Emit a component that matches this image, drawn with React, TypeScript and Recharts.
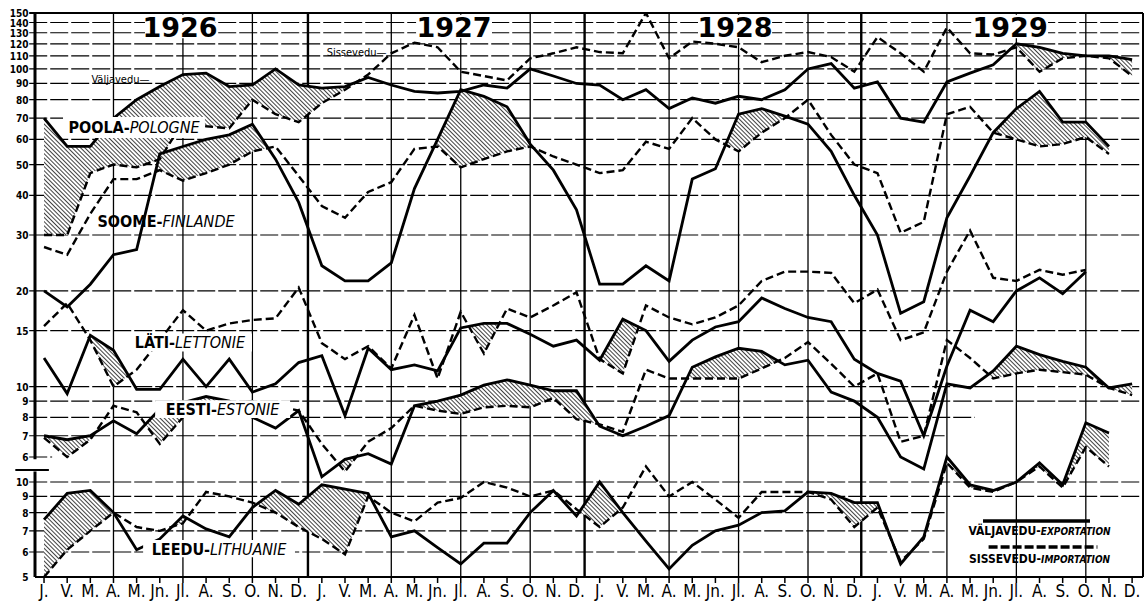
import React from "react";
import {
  ComposedChart,
  Line,
  Area,
  XAxis,
  YAxis,
  ReferenceLine,
  ReferenceArea,
} from "recharts";

const MONTHS = ["J.", "V.", "M.", "A.", "M.", "Jn.", "Jl.", "A.", "S.", "O.", "N.", "D."];
const YEARS = ["1926", "1927", "1928", "1929"];

// Poola - Pologne
const PL_EXP = [
  70, 57, 57, 70, 80, 88, 96, 97, 88, 89, 100, 89,
  87, 88, 94, 89, 85, 84, 85, 89, 87, 100, 95, 90,
  89, 80, 86, 75, 81, 78, 82, 80, 86, 100, 104, 87,
  91, 70, 68, 91, 97, 103, 120, 117, 112, 110, 110, 107,
];
const PL_IMP = [
  30, 30, 47, 50, 49, 52, 68, 66, 65, 80, 72, 68,
  78, 86, 96, 112, 121, 117, 98, 95, 92, 108, 112, 117,
  113, 112, 150, 108, 122, 120, 117, 105, 110, 113, 109, 98,
  126, 112, 98, 135, 112, 111, 117, 98, 108, 110, 108, 95,
];

// Soome - Finlande
const FI_EXP = [
  20, 17.8, 21, 26, 27, 54, 57, 60, 62, 67, 52, 38,
  24, 21.5, 21.5, 24.5, 42, 60, 86, 82, 76, 58, 48, 36,
  21, 21, 24, 21.5, 45, 48.5, 72, 75, 71, 67, 55, 40,
  30, 17, 18.5, 34, 46, 63, 75, 85, 68, 68, 57, null,
];
const FI_IMP = [
  27.5, 26, 35, 45, 45, 48, 44.5, 47, 50, 55, 57, 46,
  37, 34, 41, 44, 56, 57, 49, 52, 55, 57, 53, 50,
  47, 48, 59, 56, 70, 60, 55, 63, 70, 80, 62, 50,
  47, 30.5, 33, 72, 76, 63, 60, 57, 58, 61, 54, null,
];

// Läti - Lettonie
const LV_EXP = [
  12.3, 9.5, 14.5, 13.0, 9.8, 9.8, 12.2, 10.0, 12.2, 9.6, 10.2, 11.9,
  12.5, 8.1, 13.2, 11.3, 11.7, 11.2, 15.3, 15.8, 15.8, 14.6, 13.4, 14.0,
  12.1, 16.3, 15.0, 12.0, 14.0, 15.4, 16.0, 19.0, 17.6, 16.5, 16.0, 12.2,
  11.0, 10.4, 7.0, 11.6, 17.4, 16.0, 20.0, 22.0, 19.6, 23.0, null, null,
];
const LV_IMP = [
  15.5, 18.3, 14.0, 10.0, 11.3, 14.0, 17.4, 15.0, 15.8, 16.2, 16.4, 20.5,
  13.7, 12.2, 13.4, 11.4, 16.8, 10.6, 17.2, 12.7, 17.6, 16.5, 18.0, 19.8,
  12.2, 11.0, 18.0, 16.5, 15.7, 16.5, 18.0, 21.5, 23.0, 23.0, 22.8, 18.3,
  20.2, 14.0, 14.8, 23.0, 31.0, 22.0, 21.5, 23.3, 22.5, 23.3, null, null,
];

// Eesti - Estonie
const EE_EXP = [
  7.0, 6.8, 7.0, 7.8, 7.1, 8.5, 8.9, 9.3, 9.0, 8.0, 7.4, 8.4,
  5.2, 5.9, 6.15, 5.7, 8.7, 9.0, 9.4, 10.1, 10.5, 10.1, 9.7, 9.7,
  7.5, 7.0, 7.5, 8.1, 11.5, 12.4, 13.2, 12.9, 11.7, 12.1, 9.6, 9.0,
  8.0, 6.0, 5.5, 10.2, 9.9, 11.2, 13.4, 12.6, 12.0, 11.5, 9.9, 10.2,
];
const EE_IMP = [
  6.9, 6.0, 6.8, 8.7, 8.3, 6.6, 8.0, 8.6, 8.8, 9.0, 8.7, 8.4,
  6.6, 5.4, 6.7, 7.4, 8.7, 8.4, 8.2, 8.6, 8.7, 8.6, 9.2, 7.9,
  7.6, 7.2, 11.3, 10.6, 10.6, 10.6, 10.6, 11.4, 12.3, 13.8, 11.8, 10.0,
  11.0, 6.7, 7.0, 14.0, 12.3, 10.6, 11.0, 11.3, 11.1, 10.9, 9.9, 9.4,
];

// Leedu - Lithuanie (lower panel)
const LT_EXP = [
  7.6, 9.2, 9.4, 8.0, 6.1, 6.6, 7.8, 7.1, 6.7, 8.3, 9.4, 8.5,
  9.8, 9.5, 9.2, 6.7, 7.0, 6.2, 5.5, 6.4, 6.4, 8.0, 9.4, 7.8,
  10.0, 8.0, 6.5, 5.3, 6.3, 7.0, 7.3, 8.0, 8.1, 9.3, 9.2, 8.6,
  8.6, 5.5, 6.7, 12.0, 9.8, 9.4, 10.0, 11.5, 9.8, 15.4, 14.3, null,
];
const LT_IMP = [
  5.0, 6.1, 7.0, 8.0, 7.2, 7.0, 7.4, 9.3, 9.0, 8.6, 8.0, 7.2,
  6.6, 5.9, 9.0, 8.0, 7.5, 8.6, 8.9, 10.0, 9.6, 9.0, 9.4, 8.2,
  7.2, 8.3, 11.2, 9.0, 10.0, 8.8, 7.7, 9.3, 9.3, 9.3, 8.8, 7.2,
  8.3, 5.6, 6.6, 11.5, 9.6, 9.3, 10.0, 11.2, 9.6, 12.9, 11.2, null,
];

const TOP_TICKS = [150, 140, 130, 120, 110, 100, 90, 80, 70, 60, 50, 40, 30, 20, 15, 10, 9, 8, 7, 6];
const BOT_TICKS = [10, 9, 8, 7, 6, 5];

const W = 1146;
const H = 605;
const XMIN = -0.39;
const XMAX = 47.47;
const TOP_DOMAIN: [number, number] = [2.514, 150];
const BOT_DOMAIN: [number, number] = [5, 306.3];
const FONT = "'Liberation Sans Narrow', 'DejaVu Sans Condensed', 'Liberation Sans', sans-serif";
const TICK_FONT = "'DejaVu Sans Condensed', 'DejaVu Sans', sans-serif";
const IDX = Array.from({ length: 48 }, (_, i) => i);

// where the grid is left open (legend corner, panel gap)
const GRID_END: Record<string, number> = { "top-8": 40.2, "top-7": 38.9, "top-6": 0.35, "bot-8": 38.9, "bot-7": 38.9, "bot-6": 38.9 };

const COUNTRIES = [
  { id: "pl", axis: "top", exp: PL_EXP, imp: PL_IMP },
  { id: "fi", axis: "top", exp: FI_EXP, imp: FI_IMP },
  { id: "lv", axis: "top", exp: LV_EXP, imp: LV_IMP },
  { id: "ee", axis: "top", exp: EE_EXP, imp: EE_IMP },
  { id: "lt", axis: "bot", exp: LT_EXP, imp: LT_IMP },
];

function toPoints(vals: (number | null)[]) {
  return vals.map((v, i) => ({ x: i, v }));
}

// shaded band where exports exceed imports, crossing points found in log space
function hatchBand(exp: (number | null)[], imp: (number | null)[]) {
  const out: { x: number; band: [number, number] | null }[] = [];
  for (let i = 0; i < exp.length; i++) {
    const e = exp[i];
    const m = imp[i];
    if (e == null || m == null) {
      out.push({ x: i, band: null });
      continue;
    }
    out.push({ x: i, band: e >= m ? [m, e] : null });
    const e2 = exp[i + 1];
    const m2 = imp[i + 1];
    if (e2 == null || m2 == null) continue;
    const d1 = Math.log(e) - Math.log(m);
    const d2 = Math.log(e2) - Math.log(m2);
    if ((d1 > 0 && d2 < 0) || (d1 < 0 && d2 > 0)) {
      const t = d1 / (d1 - d2);
      const lv = Math.exp(Math.log(e) + t * (Math.log(e2) - Math.log(e)));
      out.push({ x: i + t, band: [lv, lv] });
    }
  }
  return out;
}

type Part = { text: string; bold?: boolean; italic?: boolean; size?: number };

function textContent(parts: Part[], size: number, family = FONT, anchor: "middle" | "end" = "middle") {
  return (props: any) => {
    const vb = props.viewBox;
    if (!vb) return null;
    const cx = anchor === "end" ? vb.x + vb.width : vb.x + vb.width / 2;
    const cy = vb.y + vb.height / 2;
    return (
      <text x={cx} y={cy} textAnchor={anchor} dominantBaseline="central" fontFamily={family} fontSize={size} fill="#000">
        {parts.map((p, k) => (
          <tspan key={k} fontWeight={p.bold ? 700 : 400} fontStyle={p.italic ? "italic" : "normal"} fontSize={p.size ?? size}>
            {p.text}
          </tspan>
        ))}
      </text>
    );
  };
}

const YEAR_FONT = "'DejaVu Sans', sans-serif";
const LABELS = [
  { axis: "top", x1: 4.36, x2: 7.39, y1: 125, y2: 148, fill: "#fff", parts: [{ text: YEARS[0], bold: true }], size: 27, family: YEAR_FONT },
  { axis: "top", x1: 16.07, x2: 19.35, y1: 125, y2: 148, fill: "#fff", parts: [{ text: YEARS[1], bold: true }], size: 27, family: YEAR_FONT },
  { axis: "top", x1: 28.25, x2: 31.45, y1: 125, y2: 148, fill: "#fff", parts: [{ text: YEARS[2], bold: true }], size: 27, family: YEAR_FONT },
  { axis: "top", x1: 40.09, x2: 43.37, y1: 125, y2: 148, fill: "#fff", parts: [{ text: YEARS[3], bold: true }], size: 27, family: YEAR_FONT },
  { axis: "top", x1: 0.82, x2: 6.95, y1: 60.6, y2: 70.6, fill: "#fff", parts: [{ text: "POOLA-", bold: true }, { text: "POLOGNE", italic: true }], size: 16 },
  { axis: "top", x1: 2.29, x2: 8.25, y1: 31.3, y2: 35.4, fill: "none", parts: [{ text: "SOOME-", bold: true }, { text: "FINLANDE", italic: true }], size: 16 },
  { axis: "top", x1: 3.63, x2: 8.98, y1: 12.9, y2: 14.7, fill: "#fff", parts: [{ text: "LÄTI-", bold: true }, { text: "LETTONIE", italic: true }], size: 16 },
  { axis: "top", x1: 4.8, x2: 10.63, y1: 7.96, y2: 9.06, fill: "#fff", parts: [{ text: "EESTI-", bold: true }, { text: "ESTONIE", italic: true }], size: 16 },
  { axis: "bot", x1: 4.28, x2: 10.84, y1: 5.78, y2: 6.55, fill: "#fff", parts: [{ text: "LEEDU-", bold: true }, { text: "LITHUANIE", italic: true }], size: 16 },
  { axis: "top", x1: 2.0, x2: 4.6, y1: 89, y2: 97, fill: "none", parts: [{ text: "Väljavedu—" }], size: 11 },
  { axis: "top", x1: 12.2, x2: 14.8, y1: 109, y2: 117, fill: "none", parts: [{ text: "Sissevedu—" }], size: 11 },
  { axis: "bot", x1: 39.8, x2: 46.2, y1: 6.75, y2: 7.25, fill: "none", parts: [{ text: "VÄLJAVEDU-", bold: true }, { text: "EXPORTATION", bold: true, italic: true, size: 10 }], size: 12 },
  { axis: "bot", x1: 39.8, x2: 46.2, y1: 5.5, y2: 5.9, fill: "none", parts: [{ text: "SISSEVEDU-", bold: true }, { text: "IMPORTATION", bold: true, italic: true, size: 10 }], size: 12 },
];

const QUARTERS = IDX.filter((i) => i % 12 === 3 || i % 12 === 6 || i % 12 === 9);
const YEAR_SPLITS = [11.4, 23.35, 35.3];
const GRID_START = XMIN - 0.25;

function gridLine(axis: "top" | "bot", v: number) {
  const end = GRID_END[`${axis}-${v}`] ?? XMAX;
  return (
    <ReferenceLine
      key={`${axis}-${v}`}
      yAxisId={axis}
      segment={[{ x: GRID_START, y: v }, { x: end, y: v }]}
      stroke="#000"
      strokeWidth={v === 150 ? 1.8 : 1.2}
      strokeDasharray={v === 150 ? undefined : "18 3"}
      ifOverflow="visible"
      zIndex={50}
    />
  );
}

function tickText(axis: "top" | "bot", v: number) {
  return (
    <ReferenceArea
      key={`t-${axis}-${v}`}
      yAxisId={axis}
      x1={XMIN - 1.5}
      x2={XMIN - 0.28}
      y1={v * 0.985}
      y2={v * 1.015}
      fill="none"
      stroke="none"
      ifOverflow="visible"
      zIndex={1500}
      label={{ content: textContent([{ text: String(v), bold: true }], 10, TICK_FONT, "end") }}
    />
  );
}

export default function App() {
  return (
    <div style={{ position: "absolute", left: 0, top: 0, width: W, height: H, background: "#fff" }}>
      <ComposedChart width={W} height={H} margin={{ top: 13, right: 3, bottom: 0, left: 35 }}>
        <defs>
          <pattern id="hatch" width="3" height="3" patternUnits="userSpaceOnUse" patternTransform="rotate(-45)">
            <rect width="3" height="3" fill="#fff" />
            <line x1="0" y1="0" x2="0" y2="3" stroke="#111" strokeWidth="1.6" />
          </pattern>
        </defs>
        <XAxis
          type="number"
          dataKey="x"
          domain={[XMIN, XMAX]}
          allowDataOverflow
          ticks={IDX}
          interval={0}
          tickFormatter={(i: number) => MONTHS[i % 12]}
          height={28}
          tickSize={6}
          tick={{ fontSize: 17, fill: "#000", fontFamily: FONT }}
          axisLine={{ stroke: "#000", strokeWidth: 2 }}
          tickLine={{ stroke: "#000", strokeWidth: 1.5 }}
        />
        <YAxis yAxisId="top" hide type="number" scale="log" domain={TOP_DOMAIN} allowDataOverflow />
        <YAxis yAxisId="bot" hide type="number" scale="log" domain={BOT_DOMAIN} allowDataOverflow />

        {TOP_TICKS.map((v) => gridLine("top", v))}
        {BOT_TICKS.filter((v) => v > 5).map((v) => gridLine("bot", v))}

        {QUARTERS.map((i) => (
          <ReferenceLine key={`q${i}`} x={i} yAxisId="top" stroke="#000" strokeWidth={1.3} zIndex={50} />
        ))}
        {YEAR_SPLITS.map((x) => (
          <ReferenceLine key={`y${x}`} x={x} yAxisId="top" stroke="#000" strokeWidth={2.4} zIndex={50} />
        ))}
        <ReferenceLine yAxisId="top" segment={[{ x: XMIN, y: 150 }, { x: XMIN, y: 5.9 }]} stroke="#000" strokeWidth={3} ifOverflow="visible" zIndex={50} />
        <ReferenceLine yAxisId="bot" segment={[{ x: XMIN, y: 10.8 }, { x: XMIN, y: 5 }]} stroke="#000" strokeWidth={3} ifOverflow="visible" zIndex={50} />
        <ReferenceLine yAxisId="top" segment={[{ x: XMIN - 0.85, y: 5.46 }, { x: XMIN + 0.6, y: 5.46 }]} stroke="#000" strokeWidth={2} ifOverflow="visible" zIndex={50} />
        <ReferenceLine yAxisId="top" x={XMAX} stroke="#000" strokeWidth={2} ifOverflow="visible" zIndex={50} />

        {COUNTRIES.map((c) => (
          <Area
            key={`h-${c.id}`}
            data={hatchBand(c.exp, c.imp)}
            dataKey="band"
            yAxisId={c.axis}
            type="linear"
            stroke="none"
            fill="url(#hatch)"
            fillOpacity={1}
            isAnimationActive={false}
          />
        ))}
        {COUNTRIES.map((c) => (
          <Line
            key={`i-${c.id}`}
            data={toPoints(c.imp)}
            dataKey="v"
            yAxisId={c.axis}
            type="linear"
            stroke="#000"
            strokeWidth={2.4}
            strokeDasharray="8 4"
            dot={false}
            activeDot={false}
            isAnimationActive={false}
          />
        ))}
        {COUNTRIES.map((c) => (
          <Line
            key={`e-${c.id}`}
            data={toPoints(c.exp)}
            dataKey="v"
            yAxisId={c.axis}
            type="linear"
            stroke="#000"
            strokeWidth={2.8}
            dot={false}
            activeDot={false}
            isAnimationActive={false}
          />
        ))}

        <ReferenceLine yAxisId="bot" segment={[{ x: 40.56, y: 7.52 }, { x: 45.18, y: 7.52 }]} stroke="#000" strokeWidth={3.5} ifOverflow="visible" />
        <ReferenceLine yAxisId="bot" segment={[{ x: 40.8, y: 6.22 }, { x: 45.5, y: 6.22 }]} stroke="#000" strokeWidth={3.5} strokeDasharray="9 3" ifOverflow="visible" />

        {TOP_TICKS.map((v) => tickText("top", v))}
        {BOT_TICKS.map((v) => tickText("bot", v))}

        {LABELS.map((l, k) => (
          <ReferenceArea
            key={`l${k}`}
            yAxisId={l.axis}
            x1={l.x1}
            x2={l.x2}
            y1={l.y1}
            y2={l.y2}
            fill={l.fill}
            fillOpacity={1}
            stroke="none"
            ifOverflow="visible"
            zIndex={1500}
            label={{ content: textContent(l.parts, l.size, l.family) }}
          />
        ))}
      </ComposedChart>
    </div>
  );
}
